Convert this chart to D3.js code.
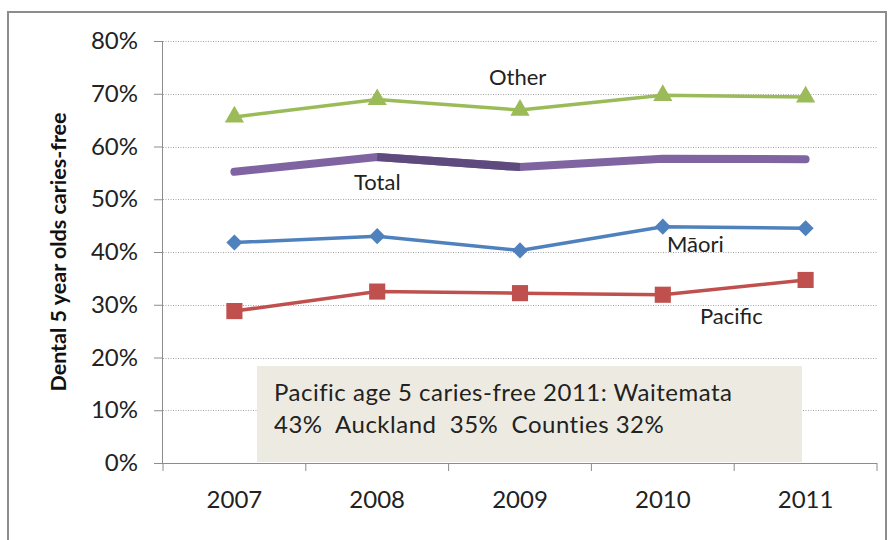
<!DOCTYPE html>
<html>
<head>
<meta charset="utf-8">
<script src="https://cdn.jsdelivr.net/npm/d3@7/dist/d3.min.js"></script>
<style>
  html, body { margin: 0; padding: 0; background: #fff; }
  svg { display: block; font-family: Lato, "Open Sans", sans-serif; }
</style>
</head>
<body>
<svg id="chart" width="890" height="540"></svg>
<script>
// Dental health: share of 5-year-olds caries-free, by ethnicity
const years = ["2007", "2008", "2009", "2010", "2011"];
const other   = [65.6, 68.9, 66.9, 69.7, 69.4];
const total   = [55.2, 58.0, 56.1, 57.7, 57.6];
const maori   = [41.8, 43.0, 40.3, 44.8, 44.5];
const pacific = [28.8, 32.5, 32.2, 31.9, 34.7];
const yTicks  = [0, 10, 20, 30, 40, 50, 60, 70, 80];
const noteLines = ["Pacific age 5 caries-free 2011: Waitemata", "43%  Auckland  35%  Counties 32%"];

const svg = d3.select("#chart");
const plotL = 163, plotR = 877, plotT = 41, plotB = 463;

const x = d3.scaleBand().domain(years).range([plotL, plotR]).paddingInner(0).paddingOuter(0);
const cx = d => x(d) + x.bandwidth() / 2;
const y = d3.scaleLinear().domain([0, 80]).range([plotB, plotT]);

// outer frame
svg.append("rect").attr("x", 8).attr("y", 12).attr("width", 878).attr("height", 540)
  .attr("fill", "none").attr("stroke", "#8c8c8c").attr("stroke-width", 2);

// gridlines
svg.append("g").selectAll("line").data(yTicks.filter(v => v > 0)).join("line")
  .attr("x1", plotL).attr("x2", plotR)
  .attr("y1", d => Math.round(y(d)) + 0.5).attr("y2", d => Math.round(y(d)) + 0.5)
  .attr("stroke", "#a6a6a6").attr("stroke-width", 1).attr("stroke-dasharray", "1,1.5");

// note box
svg.append("rect").attr("x", 257).attr("y", 366).attr("width", 545).attr("height", 96)
  .attr("fill", "#edebe1");
const note = svg.append("text").attr("x", 274).attr("font-size", 24).attr("fill", "#222")
  .attr("letter-spacing", 0.5).style("white-space", "pre");
noteLines.forEach((t, i) => note.append("tspan").attr("x", 274).attr("y", 401 + i * 32).text(t));

// y axis
const yAxis = svg.append("g").attr("transform", `translate(${plotL},0)`)
  .call(d3.axisLeft(y).tickValues(yTicks).tickFormat(d => d + "%").tickSize(9).tickPadding(16));
yAxis.select(".domain").attr("stroke", "#8c8c8c").attr("d", `M-0.5,${plotT}V${plotB}`);
yAxis.selectAll(".tick line").attr("stroke", "#8c8c8c");
yAxis.selectAll(".tick text").attr("font-size", 24).attr("fill", "#222")
  .attr("font-family", "Lato, sans-serif");

// x axis
const xAxis = svg.append("g").attr("transform", `translate(0,${plotB})`)
  .call(d3.axisBottom(x).tickSize(0).tickPadding(28));
xAxis.select(".domain").attr("stroke", "#8c8c8c").attr("d", `M${plotL - 5},0.5H${plotR}`);
xAxis.selectAll(".tick text").attr("font-size", 24).attr("fill", "#222")
  .attr("font-family", "Lato, sans-serif");
svg.append("g").selectAll("line").data(years.concat(["end"])).join("line")
  .attr("x1", (d, i) => plotL + i * x.bandwidth()).attr("x2", (d, i) => plotL + i * x.bandwidth())
  .attr("y1", plotB).attr("y2", plotB + 8).attr("stroke", "#8c8c8c");

// y axis title
svg.append("text").attr("transform", `translate(66,252) rotate(-90)`)
  .attr("text-anchor", "middle").attr("font-size", 21.5).attr("font-weight", "bold")
  .attr("fill", "#111").text("Dental 5 year olds caries-free");

const line = d3.line().x((d, i) => cx(years[i])).y(d => y(d));

// Total: thick purple line, 2008-2009 segment darker
svg.append("path").datum(total).attr("d", line).attr("fill", "none")
  .attr("stroke", "#8064a2").attr("stroke-width", 8).attr("stroke-linecap", "round")
  .attr("stroke-linejoin", "round");
svg.append("path").datum(total.slice(1, 3))
  .attr("d", d3.line().x((d, i) => cx(years[i + 1])).y(d => y(d)))
  .attr("fill", "none").attr("stroke", "#5f4a7e").attr("stroke-width", 8);

function series(vals, color, symbolType, size, rotate) {
  svg.append("path").datum(vals).attr("d", line).attr("fill", "none")
    .attr("stroke", color).attr("stroke-width", 3.5).attr("stroke-linejoin", "round");
  svg.append("g").selectAll("path").data(vals).join("path")
    .attr("d", d3.symbol().type(symbolType).size(size))
    .attr("transform", (d, i) => `translate(${cx(years[i])},${y(d)}) rotate(${rotate})`)
    .attr("fill", color);
}
series(other, "#9bbb59", d3.symbolTriangle, 160, 0);
series(maori, "#4f81bd", d3.symbolSquare, 130, 45);
series(pacific, "#c0504d", d3.symbolSquare, 260, 0);

// series labels
const labels = [
  { t: "Other", x: 489, y: 85 },
  { t: "Total", x: 354, y: 190 },
  { t: "Māori", x: 667, y: 252 },
  { t: "Pacific", x: 700, y: 324 }
];
svg.append("g").selectAll("text").data(labels).join("text")
  .attr("x", d => d.x).attr("y", d => d.y).attr("font-size", 22).attr("fill", "#222")
  .text(d => d.t);
</script>
</body>
</html>
